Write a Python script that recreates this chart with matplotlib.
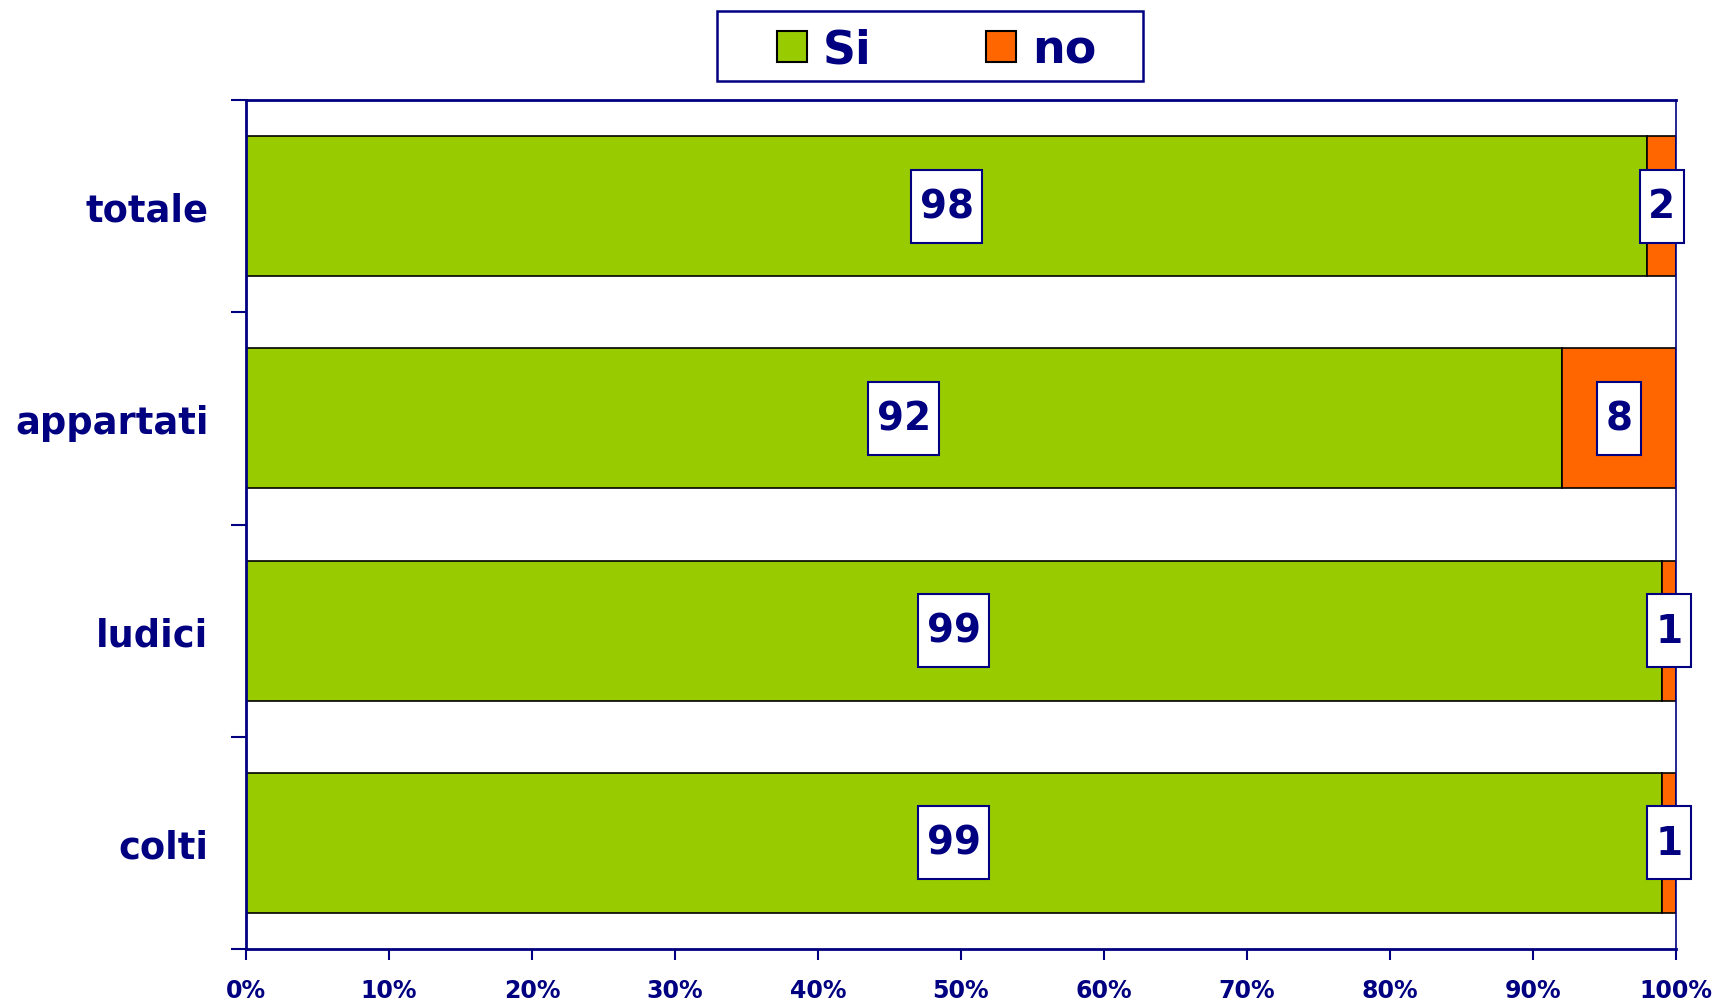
import numpy as np
import matplotlib
matplotlib.use("Agg")
import matplotlib.pyplot as plt
from matplotlib.patches import Patch, Rectangle
from matplotlib.path import Path

categories = ["totale", "appartati", "ludici", "colti"]
si_values = [98, 92, 99, 99]
no_values = [2, 8, 1, 1]
x_ticks = [0, 10, 20, 30, 40, 50, 60, 70, 80, 90, 100]

NAVY = "#000080"
GREEN = "#99CC00"
ORANGE = "#FF6600"

plt.rcParams["font.family"] = "DejaVu Sans"
plt.rcParams["font.weight"] = "bold"


def label_box(x0, y0, width, height, mutation_size):
    # taller than wide padding, like the Excel data labels
    px = 0.22 * mutation_size
    py = 0.45 * mutation_size
    x0, y0 = x0 - px, y0 - py
    x1, y1 = x0 + width + 2 * px, y0 + height + 2 * py
    return Path([(x0, y0), (x1, y0), (x1, y1), (x0, y1), (x0, y0)],
                closed=True)


fig = plt.figure(figsize=(17.22, 10.03), dpi=100)
ax = fig.add_axes([246 / 1722, 53 / 1003, 1430 / 1722, 849 / 1003])

y = np.arange(len(categories))
h = 0.66
ax.barh(y, si_values, height=h, color=GREEN, edgecolor="black", linewidth=1.2)
ax.barh(y, no_values, left=si_values, height=h, color=ORANGE, edgecolor="black", linewidth=1.2)

for yi, s, n in zip(y, si_values, no_values):
    for xv, v in [(s / 2, s), (s + n / 2, n)]:
        ax.text(xv, yi, str(v), ha="center", va="center", fontsize=28,
                fontweight="bold", color=NAVY, zorder=5,
                bbox=dict(boxstyle=label_box, facecolor="white",
                          edgecolor=NAVY, linewidth=1.5))

ax.set_xlim(0, 100)
ax.set_ylim(len(categories) - 0.5, -0.5)
ax.set_xticks(x_ticks)
ax.set_xticklabels([f"{t}%" for t in x_ticks], fontsize=17, fontweight="bold", color=NAVY)
ax.set_yticks(y)
ax.set_yticklabels(categories, fontsize=26.5, fontweight="bold", color=NAVY)
ax.set_yticks(np.arange(-0.5, len(categories)), minor=True)
ax.tick_params(axis="y", which="major", length=0, pad=27)
ax.tick_params(axis="y", which="minor", length=11, width=1.5, color=NAVY, direction="out")
ax.tick_params(axis="x", length=8, width=1.5, color=NAVY, direction="out", pad=13)

for side in ["left", "bottom", "top"]:
    ax.spines[side].set_color(NAVY)
    ax.spines[side].set_linewidth(2)
ax.spines["right"].set_color(NAVY)
ax.spines["right"].set_linewidth(1.2)

handles = [Patch(facecolor=GREEN, edgecolor="black", linewidth=1.5, label="Si"),
           Patch(facecolor=ORANGE, edgecolor="black", linewidth=1.5, label="no")]
leg = fig.legend(handles=handles, loc="center", bbox_to_anchor=(937 / 1722, 1 - 51 / 1003),
                 ncol=2, frameon=False, handlelength=0.65, handleheight=0.65,
                 handletextpad=0.35, columnspacing=2.5,
                 prop={"weight": "bold", "size": 33})
for t in leg.get_texts():
    t.set_color(NAVY)

# legend frame
fig.patches.append(Rectangle((717 / 1722, 1 - 82 / 1003), 426 / 1722, 70 / 1003,
                             transform=fig.transFigure, facecolor="none",
                             edgecolor=NAVY, linewidth=1.8))

fig.savefig("out.png", dpi=100, facecolor="white")
